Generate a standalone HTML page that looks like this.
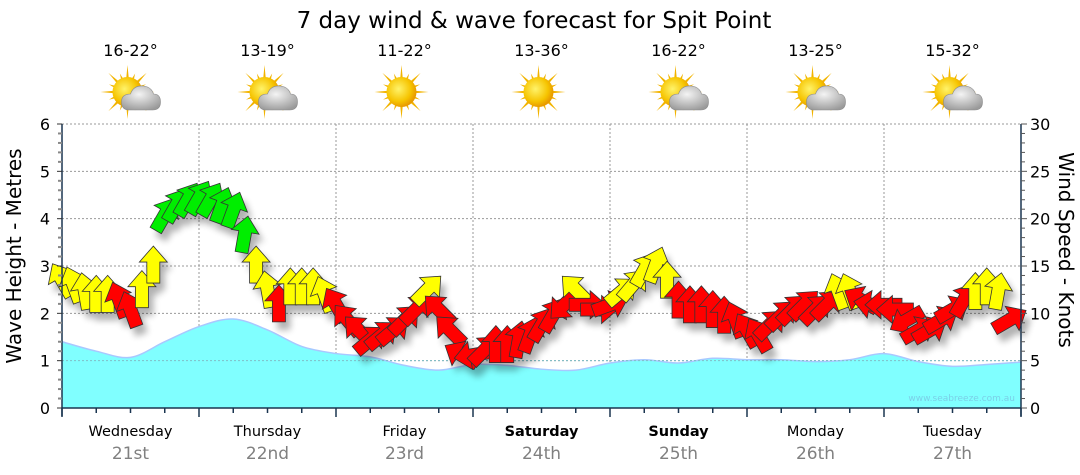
<!DOCTYPE html>
<html><head><meta charset="utf-8"><style>
body{margin:0;background:#fff;}
svg{display:block;font-family:"DejaVu Sans","Liberation Sans",sans-serif;}
</style></head><body>
<svg id="c" width="1080" height="475" viewBox="0 0 1080 475">
<defs>
<filter id="sh" x="-50%" y="-50%" width="200%" height="200%"><feGaussianBlur stdDeviation="3.5"/></filter>
<radialGradient id="sun" cx="40%" cy="40%" r="60%"><stop offset="0" stop-color="#fff36a"/><stop offset="0.7" stop-color="#f6c400"/><stop offset="1" stop-color="#e89a00"/></radialGradient>
<radialGradient id="cl" cx="45%" cy="35%" r="70%"><stop offset="0" stop-color="#f4f4f4"/><stop offset="1" stop-color="#9a9a9a"/></radialGradient>
</defs>
<text x="534" y="28" text-anchor="middle" font-size="23" fill="#000">7 day wind &amp; wave forecast for Spit Point</text>
<text transform="translate(21,256) rotate(-90)" text-anchor="middle" font-size="20">Wave Height - Metres</text>
<text transform="translate(1059,250) rotate(90)" text-anchor="middle" font-size="20">Wind Speed - Knots</text>
<g id="grid"></g>
<g id="wave"></g>
<g id="shadows" filter="url(#sh)" opacity="0.3"></g>
<g id="arrows"></g>
<g id="axes"></g>
<g id="top"></g>
<text x="1015" y="401" text-anchor="end" font-size="9" fill="#7ad0e8">www.seabreeze.com.au</text>
</svg>
<script>
const days=["Wednesday","Thursday","Friday","Saturday","Sunday","Monday","Tuesday"];
const dates=["21st","22nd","23rd","24th","25th","26th","27th"];
const temps=["16-22°","13-19°","11-22°","13-36°","16-22°","13-25°","15-32°"];
const cloudy=[1,1,0,0,1,1,1];
const boldDays=[0,0,0,1,1,0,0];
// wave height every 6 hours (m)
const waveH=[1.4,1.2,1.07,1.4,1.72,1.88,1.65,1.3,1.15,1.08,0.9,0.8,0.92,0.9,0.82,0.8,0.95,1.02,0.95,1.05,1.02,1.02,0.98,1.02,1.15,0.98,0.88,0.92,0.97];
// wind every 2 hours: speed (knots), direction arrow points (deg, 0=up)
const windSpd=[13.5,13,12.3,12,12,11.4,10.4,12.5,15.1,20.4,21.4,22,22.2,22,21.4,20.9,18.3,15.1,12.5,11,12.8,12.8,12.8,12,10.9,9.3,8.2,7.2,7.7,8.2,9.3,10.4,12.5,10.4,8.2,5.6,5.6,6.1,6.7,6.7,7.2,7.7,8.8,9.8,10.9,12.5,10.9,10.4,10.9,12.3,13,14.6,15.1,13.5,11.4,10.9,10.9,10.4,9.8,9.3,8.2,7.7,8.8,9.8,10.4,10.9,10.4,10.9,12.3,12.3,11.4,10.9,10.9,10.4,9.3,8.2,8.2,9.3,10.4,11.4,12.3,12.8,12.3,9.3];
const windDir=[-30,-20,-10,0,0,-20,-20,0,0,30,30,30,30,30,20,20,10,0,-10,0,0,0,0,-20,-30,-40,-45,50,50,50,45,45,45,-45,-45,-60,-100,45,0,0,10,20,30,30,-135,-45,90,90,70,50,40,30,20,0,0,0,0,0,0,-20,-30,-30,45,45,45,45,45,45,-20,-20,-60,-80,-90,-90,-120,60,60,60,60,30,0,0,10,60];
const leftTicks=[0,1,2,3,4,5,6];
const rightTicks=[0,5,10,15,20,25,30];

const NS="http://www.w3.org/2000/svg";
const X0=62,X1=1021,Y0=408,YT=124;
const hx=h=>X0+h*(X1-X0)/168;
const ym=m=>Y0-m*(Y0-YT)/6;
const yk=k=>Y0-k*(Y0-YT)/30;
function mk(tag,attrs,parent){const e=document.createElementNS(NS,tag);for(const k in attrs)e.setAttribute(k,attrs[k]);document.getElementById(parent).appendChild(e);return e;}

leftTicks.forEach(v=>{if(v>0){const l=mk('line',{x1:X0,x2:X1,y1:ym(v),y2:ym(v),stroke:'#999','stroke-dasharray':'2,2'},'grid');

}});
for(let d=1;d<7;d++){const l=mk('line',{x1:hx(d*24),x2:hx(d*24),y1:YT,y2:Y0,stroke:'#999','stroke-dasharray':'2,2'},'grid');

}

const pts=waveH.map((v,i)=>[hx(i*6),ym(v)]);
let d=`M${X0},${Y0} L${pts[0][0]},${pts[0][1]}`;let dl=`M${pts[0][0]},${pts[0][1]}`;
for(let i=0;i<pts.length-1;i++){const p0=pts[Math.max(0,i-1)],p1=pts[i],p2=pts[i+1],p3=pts[Math.min(pts.length-1,i+2)];
const c1=[p1[0]+(p2[0]-p0[0])/6,p1[1]+(p2[1]-p0[1])/6],c2=[p2[0]-(p3[0]-p1[0])/6,p2[1]-(p3[1]-p1[1])/6];
const s=` C${c1[0]},${c1[1]} ${c2[0]},${c2[1]} ${p2[0]},${p2[1]}`;d+=s;dl+=s;}
d+=` L${X1},${Y0} Z`;
const wa=mk('path',{d:d,fill:'#80ffff'},'wave');


const wl=mk('path',{d:dl,fill:'none',stroke:'#a8c8ff','stroke-width':1.5},'wave');


leftTicks.forEach(v=>{if(v>0&&v<2){const l=mk('line',{x1:X0,x2:X1,y1:ym(v),y2:ym(v),stroke:'#7fbfc8','stroke-dasharray':'2,2'},'wave');

}});

const AP="M0,-19 L14,-3 L6.5,-3 L6.5,18 L-6.5,18 L-6.5,-3 L-14,-3 Z";
windSpd.forEach((k,i)=>{const x=hx(i*2),y=yk(k);const col=k>=18?'#00ee00':(k>=12?'#ffff00':'#ff0000');
const s=mk('path',{d:AP,transform:`translate(${x+5},${y+8}) rotate(${windDir[i]})`,fill:'#000'},'shadows');


const a=mk('path',{d:AP,transform:`translate(${x},${y}) rotate(${windDir[i]})`,fill:col,stroke:'#333','stroke-width':0.8},'arrows');

});

const ax=mk('path',{d:`M${X0},${YT} L${X0},${Y0+8} M${X0},${Y0} L${X1},${Y0} M${X1},${YT} L${X1},${Y0+8}`,stroke:'#1a3550','stroke-width':1.5,fill:'none'},'axes');


for(let m=0;m<=30;m++){const y=ym(m/5);const major=m%5==0;
const t=mk('line',{x1:X0-(major?5:4),x2:X0,y1:y,y2:y,stroke:major?'#333':'#888','stroke-width':major?1:2},'axes');


const t2=mk('line',{x1:X1,x2:X1+(major?6:4),y1:y,y2:y,stroke:'#555'},'axes');

}
leftTicks.forEach(v=>{const t=mk('text',{x:50,y:ym(v)+6,'text-anchor':'end','font-size':16},'axes');t.textContent=v;

});
rightTicks.forEach(v=>{const t=mk('text',{x:1030,y:yk(v)+6,'font-size':16},'axes');t.textContent=v;

});
for(let h=0;h<=168;h+=6){const t=mk('line',{x1:hx(h),x2:hx(h),y1:Y0,y2:Y0+(h%24==0?9:5),stroke:'#1a3550','stroke-width':1.5},'axes');

}
days.forEach((n,i)=>{const cx=hx(i*24+12);
const t=mk('text',{x:cx,y:436,'text-anchor':'middle','font-size':14.5,'font-weight':boldDays[i]?'bold':'normal'},'axes');t.textContent=n;


const t2=mk('text',{x:cx,y:459,'text-anchor':'middle','font-size':17,fill:'#808080'},'axes');t2.textContent=dates[i];


const t3=mk('text',{x:cx,y:56,'text-anchor':'middle','font-size':16},'top');t3.textContent=temps[i];


const g=mk('g',{transform:`translate(${cx-3},${92})`},'top');


let rays='';for(let r=0;r<16;r++){const a=r*Math.PI/8,l=r%2?20:27;rays+=`M${Math.cos(a-0.12)*12},${Math.sin(a-0.12)*12} L${Math.cos(a)*l},${Math.sin(a)*l} L${Math.cos(a+0.12)*12},${Math.sin(a+0.12)*12} Z `;}
const rp=document.createElementNS(NS,'path');rp.setAttribute('d',rays);rp.setAttribute('fill','#f2b400');g.appendChild(rp);
const c=document.createElementNS(NS,'circle');c.setAttribute('r',15);c.setAttribute('fill','url(#sun)');g.appendChild(c);
if(cloudy[i]){const cp=document.createElementNS(NS,'path');
cp.setAttribute('d','M2,18 Q-6,18 -6,10 Q-6,2 3,2 Q6,-7 16,-6 Q24,-5 26,2 Q33,2 33,10 Q33,18 25,18 Z');
cp.setAttribute('fill','url(#cl)');cp.setAttribute('stroke','#8a8a8a');cp.setAttribute('stroke-width','0.6');g.appendChild(cp);}
});
</script>
</body></html>
